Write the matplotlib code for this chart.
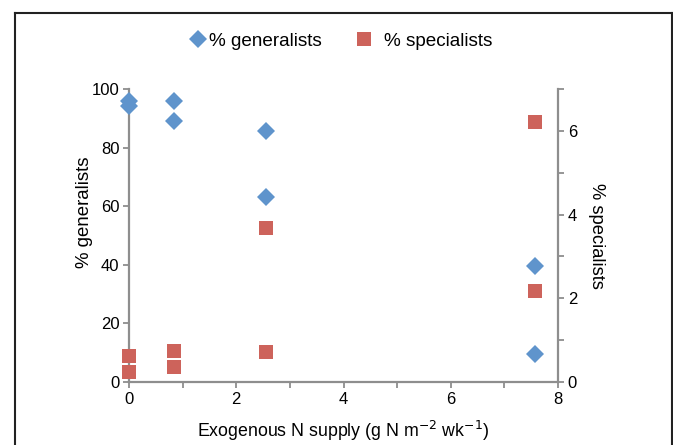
import matplotlib
matplotlib.use("Agg")
import matplotlib.pyplot as plt
from matplotlib.lines import Line2D
from matplotlib import ticker

plt.rcParams["font.family"] = ["Liberation Sans", "DejaVu Sans"]

BLUE = "#5f94cc"
RED = "#cd635b"
AXIS_GREY = "#8e8e8e"

# Exogenous N supply for each sample
n_supply_gen = [0, 0, 0.83, 0.83, 2.55, 2.55, 7.58, 7.58]
pct_generalists = [96.0, 94.2, 95.8, 89.2, 85.6, 63.1, 39.7, 9.7]

n_supply_spec = [0, 0, 0.83, 0.83, 2.55, 2.55, 7.57, 7.57]
pct_specialists = [0.63, 0.25, 0.73, 0.35, 3.68, 0.71, 6.2, 2.18]

fig = plt.figure(figsize=(6.73, 4.45), dpi=100)
ax1 = fig.add_axes([129 / 673, 1 - 382 / 445, (558 - 129) / 673, (382 - 89) / 445])
ax2 = ax1.twinx()

ax1.plot(n_supply_gen, pct_generalists, linestyle="none", marker="D",
         markersize=9.2, color=BLUE, markeredgewidth=0, clip_on=False, zorder=3)
ax2.plot(n_supply_spec, pct_specialists, linestyle="none", marker="s",
         markersize=9.7, color=RED, markeredgewidth=0, clip_on=False, zorder=3)

ax1.set_xlim(0, 8)
ax1.set_ylim(0, 100)
ax2.set_ylim(0, 7)

ax1.xaxis.set_major_locator(ticker.MultipleLocator(2))
ax1.xaxis.set_minor_locator(ticker.MultipleLocator(1))
ax1.yaxis.set_major_locator(ticker.MultipleLocator(20))
ax2.yaxis.set_major_locator(ticker.MultipleLocator(2))
ax2.yaxis.set_minor_locator(ticker.MultipleLocator(1))

for ax in (ax1, ax2):
    ax.spines["top"].set_visible(False)
    for side in ("left", "right", "bottom"):
        ax.spines[side].set_color(AXIS_GREY)
        ax.spines[side].set_linewidth(1.6)
    ax.tick_params(which="both", direction="out", length=4, width=1.3,
                   color=AXIS_GREY, labelsize=12, labelcolor="black", pad=3)
ax1.spines["right"].set_visible(False)
ax2.spines["left"].set_visible(False)
ax2.spines["bottom"].set_visible(False)

ax1.set_ylabel("% generalists", fontsize=13.4)
ax1.yaxis.set_label_coords(-0.084, 0.58)
ax2.set_ylabel("% specialists", fontsize=13.2, rotation=270, labelpad=20)
ax1.set_xlabel("Exogenous N supply (g N m$^{-2}$ wk$^{-1}$)", fontsize=12.8, labelpad=9)

# legend entries placed separately to match the spacing of the original
diamond = Line2D([0], [0], linestyle="none", marker="D", markersize=9.2,
                 color=BLUE, markeredgewidth=0, label="% generalists")
square = Line2D([0], [0], linestyle="none", marker="s", markersize=9.7,
                color=RED, markeredgewidth=0, label="% specialists")
legend_y = 1 - 41 / 445
fig.legend(handles=[diamond], loc="center left", bbox_to_anchor=(189 / 673, legend_y),
           frameon=False, fontsize=13.6, handlelength=1.0, handletextpad=0.05,
           borderpad=0, borderaxespad=0)
fig.legend(handles=[square], loc="center left", bbox_to_anchor=(355 / 673, legend_y),
           frameon=False, fontsize=13.6, handlelength=1.0, handletextpad=0.55,
           borderpad=0, borderaxespad=0)

# outer frame (bottom edge lies below the picture)
frame_kw = dict(color="#222222", linewidth=1.5, transform=fig.transFigure)
left, right, top = 14.5 / 673, 671.5 / 673, 1 - 12.5 / 445
fig.add_artist(Line2D([left, left], [top, -0.05], **frame_kw))
fig.add_artist(Line2D([right, right], [top, -0.05], **frame_kw))
fig.add_artist(Line2D([left, right], [top, top], **frame_kw))

fig.savefig("out.png", dpi=100)
